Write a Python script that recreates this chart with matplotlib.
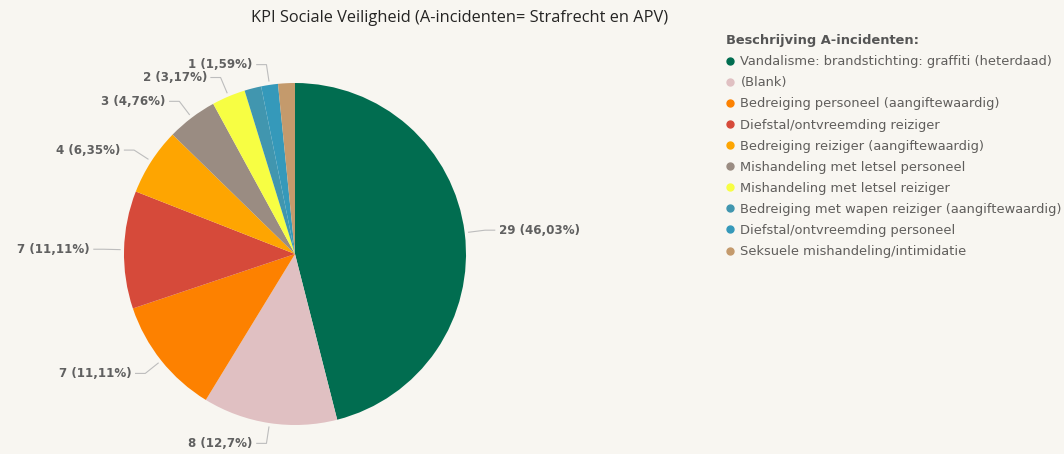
import numpy as np
import matplotlib.pyplot as plt
from matplotlib.lines import Line2D

plt.rcParams["font.family"] = ["DejaVu Sans"]

categories = [
    "Vandalisme: brandstichting: graffiti (heterdaad)",
    "(Blank)",
    "Bedreiging personeel (aangiftewaardig)",
    "Diefstal/ontvreemding reiziger",
    "Bedreiging reiziger (aangiftewaardig)",
    "Mishandeling met letsel personeel",
    "Mishandeling met letsel reiziger",
    "Bedreiging met wapen reiziger (aangiftewaardig)",
    "Diefstal/ontvreemding personeel",
    "Seksuele mishandeling/intimidatie",
]
values = [29, 8, 7, 7, 4, 3, 2, 1, 1, 1]
# labels that Power BI actually drew (others hidden for overlap)
show_label = [True, True, True, True, True, True, True, False, True, False]

colors = ["#016D50", "#E0C0C2", "#FD8100", "#D64A3A", "#FEA501",
          "#9A8C82", "#F7FE43", "#4196AF", "#3599BA", "#C49A6C"]

bg = "#F8F6F1"
W, H = 1064, 454
R = 171.0          # pie radius in px
cx, cy = 295, 254  # pie centre in px

fig = plt.figure(figsize=(W / 100, H / 100), dpi=100, facecolor=bg)
ax = fig.add_axes([0, 0, 1, 1])
ax.set_facecolor(bg)

wedges, _ = ax.pie(values, colors=colors, startangle=90, counterclock=False,
                   radius=1.0, center=(0, 0), frame=True,
                   wedgeprops=dict(linewidth=0))
ax.set_xlim(-cx / R, (W - cx) / R)
ax.set_ylim(-(H - cy) / R, cy / R)
ax.set_aspect("equal")
ax.axis("off")

total = sum(values)
for w, v, show in zip(wedges, values, show_label):
    if not show:
        continue
    ang = np.deg2rad((w.theta1 + w.theta2) / 2)
    x0, y0 = 1.02 * np.cos(ang), 1.02 * np.sin(ang)
    x1, y1 = 1.12 * np.cos(ang), 1.12 * np.sin(ang)
    side = 1 if x0 >= 0 else -1
    x2 = x1 + side * 0.06
    ax.plot([x0, x1, x2], [y0, y1, y1], color="#BDBDBD", lw=0.8,
            solid_capstyle="butt")
    pct = f"{v / total * 100:.2f}".rstrip("0").rstrip(".").replace(".", ",")
    ax.text(x2 + side * 0.02, y1, f"{v} ({pct}%)", ha="left" if side > 0 else "right",
            va="center", fontsize=8.6, fontweight="bold", color="#606060")

fig.text(460 / W, 1 - 18 / H, "KPI Sociale Veiligheid (A-incidenten= Strafrecht en APV)",
         ha="center", va="center", fontsize=11.8, color="#252423",
         family="Open Sans")

handles = [Line2D([], [], marker="o", linestyle="none", markersize=5,
                  markerfacecolor=c, markeredgecolor=c) for c in colors]
leg = fig.legend(handles, categories, loc="upper left",
                 bbox_to_anchor=(717 / W, 1 - 25 / H), frameon=False,
                 title="Beschrijving A-incidenten:", alignment="left",
                 fontsize=9.4, title_fontsize=9.4, handlelength=0.6,
                 handletextpad=0.5, labelspacing=0.62, borderpad=0.2)
leg.get_title().set_fontweight("bold")
leg.get_title().set_color("#555555")
for t in leg.get_texts():
    t.set_color("#605E5C")

fig.savefig("out.png", dpi=100, facecolor=bg)
